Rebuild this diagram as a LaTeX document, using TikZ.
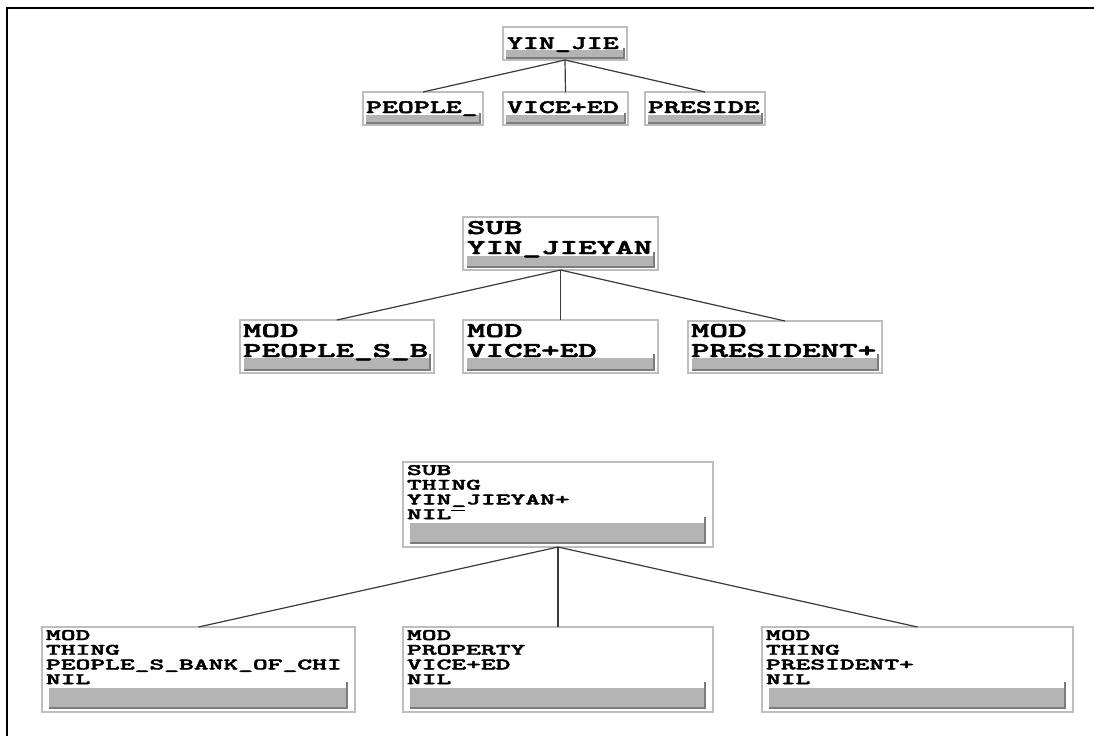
\documentclass[tikz,border=0pt]{standalone}
\usepackage{graphicx}
\usepackage{fontspec}
\usetikzlibrary{calc}

% heavy typewriter face for the box labels
\newfontfamily\boxtt{lmmonolt10-bold}[Extension=.otf, FakeBold=2]

\definecolor{edgegray}{HTML}{BEBEBE}
\definecolor{barfill}{HTML}{B4B4B4}
\definecolor{bardark}{HTML}{7C7C7C}
\definecolor{wire}{HTML}{3A3A3A}

% stretched typewriter lines: size, line pitch, horizontal stretch, lines
\newcommand\ttlines[4]{{\fontsize{#1}{#2}\selectfont\boxtt
  \scalebox{#3}[1]{\begin{tabular}[t]{@{}l@{}}#4\end{tabular}}}}
% short raised dash after a word
\newcommand\hidash{\rule[0.52em]{0.5em}{0.07em}}

\tikzset{
  panel/.style={draw=edgegray, fill=white, line width=1.8pt, anchor=north west,
    inner sep=0pt, outer sep=0pt},
  label text/.style={anchor=base west, inner sep=0pt, outer sep=0pt},
  wirestyle/.style={draw=wire, line width=1.2pt},
}

% box node: name, x1, y1, x2, y2
\newcommand\panelbox[5]{%
  \node[panel, minimum width={(#4-#2)*1pt}, minimum height={(#5-#3)*1pt}] (#1) at (#2,#3) {};}
% status bar: x1, y1, x2, y2, height of the right tick above the bar
\newcommand\panelbar[5]{%
  \fill[barfill] (#1,#2) rectangle (#3,#4);
  \draw[bardark, line width=1.6pt] (#1,#4) -- (#3,#4) -- (#3,#2-#5);}

\begin{document}
\begin{tikzpicture}[x=1pt, y=-1pt]
\useasboundingbox (0,0) rectangle (1094,736);
\fill[white] (0,0) rectangle (1094,736);
\draw[black, line width=1.5pt] (7,736) -- (7,8) -- (1094,8);

% ---- first tree ----
\panelbox{r1}{503}{27}{627}{60}
\panelbar{506}{50}{624}{58}{2}
\node[label text] (r1t) at (507,49) {\ttlines{19}{20}{1.6}{YIN\_JIE}};

\panelbox{c1a}{363}{92}{483}{125}
\panelbar{366}{115}{480}{123}{2}
\node[label text] (c1at) at (366,113) {\ttlines{19}{20}{1.6}{PEOPLE\_}};

\panelbox{c1b}{503}{92}{628}{125}
\panelbar{506}{115}{625}{123}{2}
\node[label text] (c1bt) at (507,113) {\ttlines{19}{20}{1.6}{VICE+ED}};

\panelbox{c1c}{645}{92}{765}{125}
\panelbar{648}{115}{762}{123}{2}
\node[label text] (c1ct) at (648,113) {\ttlines{19}{20}{1.6}{PRESIDE}};

\draw[wirestyle] (r1.south) -- (c1a.north);
\draw[wirestyle] (r1.south) -- (c1b.north);
\draw[wirestyle] (r1.south) -- (c1c.north);

% ---- second tree ----
\panelbox{r2}{463}{217}{658}{270}
\panelbar{467}{256}{654}{267}{4}
\node[label text] (r2t) at (467,234) {\ttlines{21}{20}{1.68}{SUB\\YIN\_JIEYAN}};

\panelbox{c2a}{240}{320}{434}{373}
\panelbar{244}{358}{430}{370}{4}
\node[label text] (c2at) at (243,337) {\ttlines{21}{20}{1.68}{MOD\\PEOPLE\_S\_B}};

\panelbox{c2b}{463}{320}{658}{373}
\panelbar{467}{358}{654}{370}{4}
\node[label text] (c2bt) at (467,337) {\ttlines{21}{20}{1.68}{MOD\\VICE+ED}};

\panelbox{c2c}{688}{321}{882}{373}
\panelbar{692}{358}{878}{370}{4}
\node[label text] (c2ct) at (691,337) {\ttlines{21}{20}{1.68}{MOD\\PRESIDENT+}};

\draw[wirestyle] (r2.south) -- (c2a.north);
\draw[wirestyle] (r2.south) -- (c2b.north);
\draw[wirestyle] (r2.south) -- (c2c.north);

% ---- third tree ----
\panelbox{r3}{403}{462}{713}{547}
\panelbar{410}{523}{705}{543}{6}
\node[label text] (r3t) at (407,475) {\ttlines{16}{14.7}{1.76}{SUB\\THING\\YIN\_JIEYAN+\\NIL\hidash}};

\panelbox{c3a}{42}{627}{355}{712}
\panelbar{49}{688}{347}{708}{6}
\node[label text] (c3at) at (46,640) {\ttlines{16}{14.7}{1.76}{MOD\\THING\\PEOPLE\_S\_BANK\_OF\_CHI\\NIL}};

\panelbox{c3b}{403}{627}{713}{712}
\panelbar{410}{688}{705}{708}{6}
\node[label text] (c3bt) at (407,640) {\ttlines{16}{14.7}{1.76}{MOD\\PROPERTY\\VICE+ED\\NIL}};

\panelbox{c3c}{762}{627}{1073}{712}
\panelbar{769}{688}{1065}{708}{6}
\node[label text] (c3ct) at (766,640) {\ttlines{16}{14.7}{1.76}{MOD\\THING\\PRESIDENT+\\NIL}};

\draw[wirestyle] (r3.south) -- (c3a.north);
\draw[wirestyle] (r3.south) -- (c3b.north);
\draw[wirestyle] (r3.south) -- (c3c.north);
\end{tikzpicture}
\end{document}
